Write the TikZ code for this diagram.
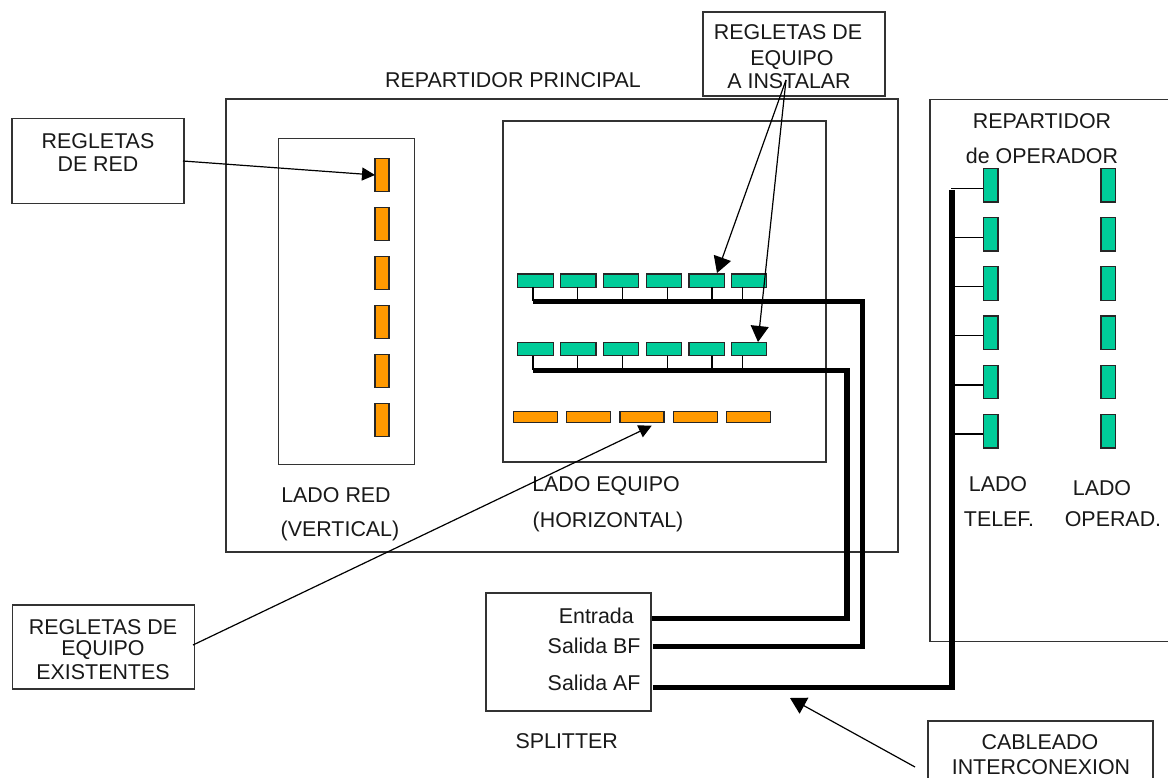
\documentclass[tikz,border=0pt]{standalone}
\usepackage{fontspec}
\setmainfont{Liberation Sans}
\usetikzlibrary{arrows.meta}
\definecolor{grn}{RGB}{0,204,153}
\definecolor{org}{RGB}{255,153,0}
\tikzset{
 x=1pt,y=-1pt,
 frame/.style={draw=black!80,line width=1.1pt,fill=none},
 ggreen/.style={draw=black!85,line width=1.2pt,fill=grn},
 gorange/.style={draw=black!85,line width=1.2pt,fill=org},
 txt/.style={font=\fontsize{21.4}{24}\selectfont,text=black!90,inner sep=0pt,anchor=center},
 thick line/.style={line width=5.5pt,line join=miter},
 tick/.style={line width=1.2pt},
 pointer/.style={line width=1.2pt,-{Triangle[length=16pt,width=18pt]}},
 small pointer/.style={line width=1.2pt,-{Triangle[length=13pt,width=13pt]}},
}
\newcommand{\regla}[6]{\node[#1,minimum width=#4,minimum height=#5,inner sep=0pt,outer sep=0pt] (#6) at (#2,#3) {};}
\begin{document}
\begin{tikzpicture}
\useasboundingbox (0,0) rectangle (1168,778);
\fill[white] (0,0) rectangle (1168,778);
% boxes
\node[frame,minimum width=672pt,minimum height=453pt,inner sep=0pt,outer sep=0pt] (rp) at (562,325.5) {};
\node[frame,minimum width=136pt,minimum height=326pt,inner sep=0pt,outer sep=0pt] (lr) at (346.5,301.5) {};
\node[frame,minimum width=323pt,minimum height=341pt,inner sep=0pt,outer sep=0pt] (le) at (664.5,291.5) {};
\draw[frame] (1168,99.3) -- (930,99.3) -- (930,641.5) -- (1168,641.5);
\node[frame,minimum width=172pt,minimum height=85pt,inner sep=0pt,outer sep=0pt] (br) at (98,161) {};
\node[frame,minimum width=182pt,minimum height=84pt,inner sep=0pt,outer sep=0pt] (be) at (794,54) {};
\node[frame,minimum width=165pt,minimum height=118pt,inner sep=0pt,outer sep=0pt] (sp) at (568.5,652) {};
\node[frame,minimum width=182pt,minimum height=84pt,inner sep=0pt,outer sep=0pt] (bx) at (103.5,647) {};
\draw[frame] (928,782) -- (928,721) -- (1153,721) -- (1153,782);
% orange vertical
\foreach \i/\y in {1/175,2/224,3/273,4/322,5/371,6/420}
  \regla{gorange}{382}{\y}{14pt}{33pt}{ov\i}
% orange horizontal
\foreach \i/\x in {1/535.3,2/588.7,3/642,4/695.3,5/748.7}
  \regla{gorange}{\x}{416.8}{44pt}{11pt}{oh\i}
% green rows
\foreach \i/\x in {1/535.5,2/578.3,3/621,4/664,5/706.7,6/749}{
  \regla{ggreen}{\x}{280.7}{35.5pt}{13.3pt}{ga\i}
  \regla{ggreen}{\x}{348.8}{35.5pt}{13.3pt}{gb\i}
}
% operator green
\foreach \i/\y in {1/185.3,2/234.3,3/283.6,4/332.7,5/382,6/431.3}{
  \regla{ggreen}{990.7}{\y}{14.5pt}{33.5pt}{gc\i}
  \regla{ggreen}{1108.3}{\y}{14.5pt}{33.5pt}{gd\i}
}
% named junctions
\coordinate (ra) at (533,301.3);
\coordinate (rb) at (533,370.3);
\coordinate (cb) at (952,190);
\coordinate (ca) at (862.7,301.3);
\coordinate (cc) at (847,370.3);
\coordinate (se) at (652,618.7);
\coordinate (sb) at (653,646.3);
\coordinate (sa) at (653,687.7);
% ticks
\foreach \i/\x in {1/533,2/577.7,3/622.7,4/667.7,5/712,6/742.3}{
  \draw[tick] (\x,287) -- (\x,301);
  \draw[tick] (\x,355.5) -- (\x,370);
}
\foreach \i/\y in {1/188.3,2/237.3,3/286.7,4/335.7,5/385,6/434}
  \draw[tick] (951,\y) -- (983,\y);
% thick
\draw[thick line] (ra) -- (ca) -- (862.7,646.3) -- (sb);
\draw[thick line] (rb) -- (cc) -- (847,618.7) -- (se);
\draw[thick line] (cb) -- (952,687.7) -- (sa);
% text
\node[txt] (t1) at (513,80) {REPARTIDOR PRINCIPAL};
\node[txt] (t2) at (788,32) {REGLETAS DE};
\node[txt] (t3) at (792,60) {EQUIPO};
\node[txt] (t4) at (789,81) {A INSTALAR};
\node[txt] (t5) at (98,141) {REGLETAS};
\node[txt] (t6) at (98,164) {DE RED};
\node[txt] (t7) at (1042,121) {REPARTIDOR};
\node[txt] (t8) at (1042,156) {de OPERADOR};
\node[txt] (t9) at (336,495) {LADO RED};
\node[txt] (t10) at (340,531) {(VERTICAL)};
\node[txt] (t11) at (606,486) {LADO EQUIPO};
\node[txt] (t12) at (608,522) {(HORIZONTAL)};
\node[txt] (t13) at (998,484) {LADO};
\node[txt] (t14) at (999,519) {TELEF.};
\node[txt] (t15) at (1102,488) {LADO};
\node[txt] (t16) at (1113,519) {OPERAD.};
\node[txt,anchor=east] (t17) at (634,616) {Entrada};
\node[txt,anchor=east] (t18) at (640.7,645.5) {Salida BF};
\node[txt,anchor=east] (t19) at (640.7,683) {Salida AF};
\node[txt] (t20) at (566.7,741) {SPLITTER};
\node[txt] (t21) at (103,627) {REGLETAS DE};
\node[txt] (t22) at (103,650) {EQUIPO};
\node[txt] (t23) at (103,672) {EXISTENTES};
\node[txt] (t24) at (1040,742) {CABLEADO};
\node[txt] (t25) at (1041,767) {INTERCONEXION};
% arrows
\coordinate (a0) at (786,80);
\coordinate (a1) at (717,273);
\coordinate (a2) at (758,342);
\coordinate (r0) at (183,161);
\coordinate (r1) at (375,175);
\coordinate (e0) at (193,645);
\coordinate (e1) at (651.7,425.7);
\coordinate (c0) at (915,767);
\coordinate (c1) at (790,698);
\draw[small pointer] (r0) -- (r1);
\draw[pointer] (a0) -- (a1);
\draw[pointer] (a0) -- (a2);
\draw[small pointer] (e0) -- (e1);
\draw[pointer] (c0) -- (c1);
\end{tikzpicture}
\end{document}
